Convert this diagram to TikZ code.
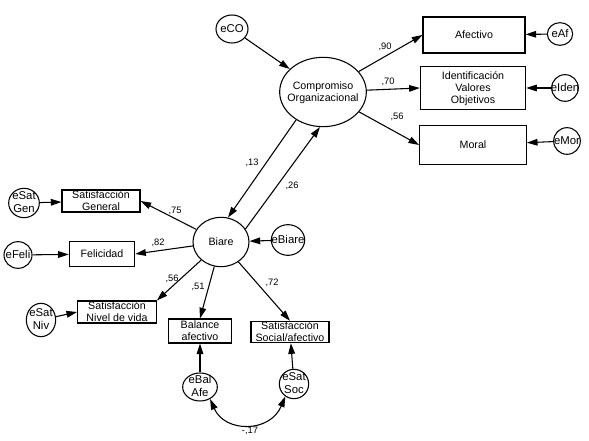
\documentclass[tikz,border=0pt]{standalone}
\usepackage{fontspec}
\setmainfont{Liberation Sans}
\usetikzlibrary{shapes.geometric,arrows.meta}
\newcommand{\ct}[1]{\makebox[0pt]{\smash{\raisebox{-2.6pt}{\begin{tabular}{@{}c@{}}#1\end{tabular}}}}}

\begin{document}
\begin{tikzpicture}[x=0.75pt,y=-0.75pt,line width=0.8pt,
		>={Triangle[length=8pt,width=5pt]},
		obs/.style={draw,rectangle,inner sep=0pt,font=\fontsize{8}{9}\selectfont},
		lat/.style={draw,ellipse,inner sep=0pt,font=\fontsize{8}{9}\selectfont},
		err/.style={draw,ellipse,inner sep=0pt,font=\fontsize{8.5}{9.5}\selectfont},
		wt/.style={inner sep=0pt,font=\fontsize{7}{8}\selectfont}]
		\useasboundingbox (0,0) rectangle (589,441);
		\node[lat,minimum width=65pt,minimum height=52pt] (CO) at (323,92) {\ct{Compromiso\\Organizacional}};
		\node[lat,minimum width=42pt,minimum height=37pt] (BI) at (221,242) {\ct{Biare}};
		\node[obs,minimum width=76.5pt,minimum height=27pt] (AF) at (474,35) {\ct{Afectivo}};
		\node[obs,minimum width=79pt,minimum height=32pt] (ID) at (473,88) {\ct{Identificación\\Valores\\Objetivos}};
		\node[obs,minimum width=80pt,minimum height=29pt] (MO) at (473,145) {\ct{Moral}};
		\node[obs,minimum width=58.5pt,minimum height=16.5pt] (SG) at (101,201) {\ct{Satisfacción\\General}};
		\node[obs,minimum width=49pt,minimum height=19pt] (FE) at (102,254) {\ct{Felicidad}};
		\node[obs,minimum width=59pt,minimum height=16.5pt] (SN) at (117,312) {\ct{Satisfacción\\Nivel de vida}};
		\node[obs,minimum width=47pt,minimum height=18pt] (BA) at (200,331) {\ct{Balance\\afectivo}};
		\node[obs,minimum width=58.5pt,minimum height=16pt] (SS) at (290,332) {\ct{Satisfacción\\Social/afectivo}};
		\node[err,minimum width=24pt,minimum height=21pt] (eCO) at (232,29) {\ct{eCO}};
		\node[err,minimum width=19pt,minimum height=17pt] (eAF) at (560,34) {\ct{eAf}};
		\node[err,minimum width=20pt,minimum height=20pt] (eID) at (565,88) {\ct{eIden}};
		\node[err,minimum width=20pt,minimum height=20pt] (eMO) at (567,141) {\ct{eMor}};
		\node[err,minimum width=25pt,minimum height=23pt] (eBI) at (288,240) {\ct{eBiare}};
		\node[err,minimum width=23pt,minimum height=22pt] (eSG) at (24,203) {\ct{eSat\\Gen}};
		\node[err,minimum width=21pt,minimum height=20pt] (eFE) at (18,255) {\ct{eFeli}};
		\node[err,minimum width=22pt,minimum height=25pt] (eSN) at (41,320) {\ct{eSat\\Niv}};
		\node[err,minimum width=26pt,minimum height=21pt] (eBA) at (200,387) {\ct{eBal\\Afe}};
		\node[err,minimum width=22pt,minimum height=22pt] (eSS) at (294,384) {\ct{eSat\\Soc}};
		\draw[->] (eCO) -- (CO);
		\draw[->] (CO) -- (AF.west);
		\draw[->] (CO) -- (ID.west);
		\draw[->] (CO) -- (MO.west);
		\draw[->] (eAF) -- (AF);
		\draw[->] (eID) -- (ID);
		\draw[->] (eMO) -- (MO);
		\draw[->] (CO.226) -- (BI.74);
		\draw[->] (BI.28) -- (CO.265);
		\draw[->] (eBI) -- (BI);
		\draw[->] (BI) -- (SG.east);
		\draw[->] (BI) -- (FE.east);
		\draw[->] (BI) -- (SN.north east);
		\draw[->] (BI) -- (BA.north);
		\draw[->] (BI) -- (SS.north);
		\draw[->] (eSG) -- (SG);
		\draw[->] (eFE) -- (FE);
		\draw[->] (eSN) -- (SN.west);
		\draw[->] (eBA) -- (BA);
		\draw[->] (eSS) -- (SS);
		\draw[<->] (eBA.310) .. controls (225,433) and (270,433) .. (eSS.235);
		\node[wt] (rAF) at (385,47) {,90};
		\node[wt] (rID) at (388,82) {,70};
		\node[wt] (rMO) at (397,117) {,56};
		\node[wt] (rCB) at (252,163) {,13};
		\node[wt] (rBC) at (292,186) {,26};
		\node[wt] (rSG) at (175,211) {,75};
		\node[wt] (rFE) at (158,243) {,82};
		\node[wt] (rSN) at (172,279) {,56};
		\node[wt] (rBA) at (198,287) {,51};
		\node[wt] (rSS) at (272,283) {,72};
		\node[wt] (rE) at (250,431) {-,17};
	\end{tikzpicture}
\end{document}
